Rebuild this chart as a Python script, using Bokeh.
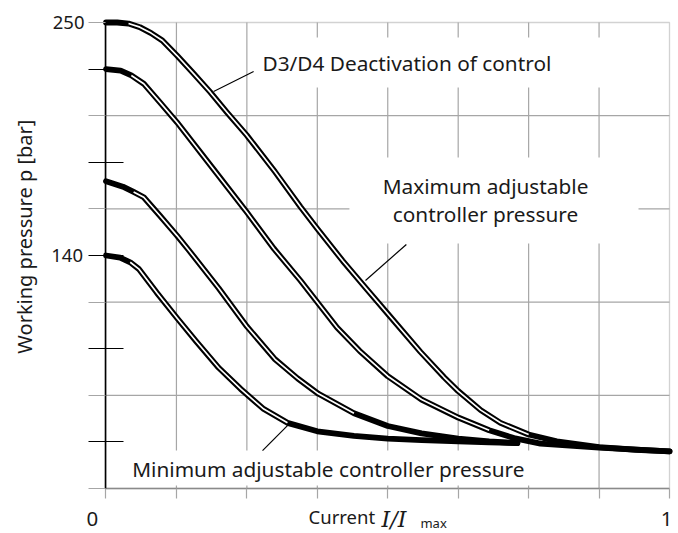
import math
from bokeh.plotting import figure
from bokeh.models import Range1d, FixedTicker, Label, LinearAxis, BoxAnnotation
from bokeh.embed import file_html
from bokeh.resources import INLINE

# ---- data (x = I/Imax, y = working pressure in bar) ----
current_a = [0.0, 0.02, 0.04, 0.06, 0.08, 0.10, 0.126, 0.155, 0.185, 0.215, 0.25, 0.30, 0.345,
             0.375, 0.42, 0.463, 0.50, 0.558, 0.60, 0.625, 0.665, 0.70, 0.75, 0.80, 0.875, 0.94, 1.0]
pressure_a = [250.0, 250.0, 249.5, 247.8, 245.0, 241.5, 234.4, 226.0, 217.1, 207.5, 196.7, 179.5, 163.0,
              152.6, 137.5, 124.0, 112.5, 94.5, 82.5, 76.0, 67.0, 61.0, 55.5, 52.3, 49.5, 48.3, 47.5]

current_b = [0.0, 0.026, 0.045, 0.067, 0.095, 0.126, 0.19, 0.25, 0.298, 0.345, 0.41, 0.45, 0.50,
             0.56, 0.625, 0.68, 0.724, 0.771, 0.875, 1.0]
pressure_b = [228.0, 227.3, 225.0, 221.1, 212.5, 202.9, 181.0, 160.4, 143.2, 128.2, 106.0, 95.0, 83.0,
              72.0, 63.5, 57.5, 53.8, 51.2, 49.3, 47.5]

current_c = [0.0, 0.03, 0.049, 0.067, 0.095, 0.126, 0.147, 0.20, 0.25, 0.30, 0.34, 0.377, 0.44,
             0.50, 0.56, 0.625, 0.68, 0.73]
pressure_c = [175.1, 172.5, 170.0, 167.5, 159.0, 149.4, 142.5, 124.5, 106.5, 91.0, 82.0, 74.7, 65.5,
              59.5, 56.0, 53.5, 52.2, 51.4]

current_d = [0.0, 0.025, 0.043, 0.058, 0.09, 0.126, 0.16, 0.20, 0.239, 0.28, 0.322, 0.375, 0.44,
             0.50, 0.56, 0.625, 0.68, 0.73]
pressure_d = [140.0, 139.0, 136.8, 133.7, 122.5, 110.5, 99.5, 87.0, 77.0, 67.5, 61.0, 57.0, 54.8,
              53.5, 52.8, 52.3, 51.8, 51.4]

# stretch of each curve (index range) where the up/down pair shows as an open double line
gap_a = (2, 22)
gap_b = (2, 15)
gap_c = (2, 12)
gap_d = (2, 10)

# panel and ticks
x_min, x_max = 0.0, 1.0
y_min, y_max = 30.0, 250.0
y_major_ticks = [228, 184, 140, 96, 52]
y_minor_ticks = [250, 206, 162, 118, 74, 30]
y_grid_ticks = [206, 162, 118, 74]
y_tick_labels = {140: "140"}
y_top_label = "250"
x_ticks = [0, 0.125, 0.25, 0.375, 0.5, 0.625, 0.75, 0.875, 1]
x_grid_ticks = [0.125, 0.25, 0.375, 0.5, 0.625, 0.75, 0.875]
x_tick_labels = ["0", "1"]

# annotation texts, leader lines, white boxes behind the notes
y_title = "Working pressure p [bar]"
x_title = ["Current", "I/I", "max"]
note_top = "D3/D4 Deactivation of control"
note_max = ["Maximum adjustable", "controller pressure"]
note_min = "Minimum adjustable controller pressure"
leader_x0 = [0.191, 0.4605, 0.322]
leader_y0 = [217.4, 128.2, 59.7]
leader_x1 = [0.262, 0.533, 0.2778]
leader_y1 = [226.9, 145.2, 47.9]
box_left = [0.26, 0.432, 0.026]
box_right = [0.913, 0.945, 0.806]
box_bottom = [219.3, 145.7, 31.4]
box_top = [242.9, 186.3, 47.9]

FONT = "Noto Sans"
TXT = "#1a1a1a"
GRID = "#a6a6a6"
NOTE_SIZE = "20.8px"

# the frame fills the canvas; the panel (0..1, 30..250) sits inside it with the axes
# pinned to its left and bottom edges, so texts below/left of the panel stay visible
p = figure(width=678, height=533,
           x_range=Range1d(-0.18722, 1.01597), y_range=Range1d(8.755, 260.386),
           x_axis_type=None, y_axis_type=None,
           output_backend="svg", toolbar_location=None,
           min_border_left=0, min_border_right=0, min_border_top=0, min_border_bottom=0)
p.background_fill_color = "white"
p.border_fill_color = "white"
p.outline_line_color = None

# panel border
p.add_layout(BoxAnnotation(left=x_min, right=x_max, bottom=y_min, top=y_max,
                           fill_color=None, line_color="#6a6a6a", line_width=1.3,
                           level="underlay"))

# grid lines
p.segment(x0=x_grid_ticks, x1=x_grid_ticks, y0=[y_min] * len(x_grid_ticks),
          y1=[y_max] * len(x_grid_ticks), line_color=GRID, line_width=1.2)
p.segment(x0=[x_min] * len(y_grid_ticks), x1=[x_max] * len(y_grid_ticks),
          y0=y_grid_ticks, y1=y_grid_ticks, line_color=GRID, line_width=1.2)

# y axis
ya = LinearAxis(fixed_location=x_min, bounds=(y_min, y_max),
                ticker=FixedTicker(ticks=y_major_ticks, minor_ticks=y_minor_ticks))
ya.major_label_overrides = {t: y_tick_labels.get(t, "") for t in y_major_ticks}
ya.major_tick_out = 17
ya.major_tick_in = 18
ya.major_tick_line_color = "black"
ya.major_tick_line_width = 1.2
ya.minor_tick_out = 17
ya.minor_tick_in = 0
ya.minor_tick_line_color = GRID
ya.minor_tick_line_width = 1.2
ya.axis_line_color = "black"
ya.axis_line_width = 1.6
ya.major_label_standoff = 6
ya.major_label_text_font = FONT
ya.major_label_text_font_size = "18.5px"
ya.major_label_text_color = TXT
p.add_layout(ya, "left")

# x axis (ticks only; its texts are placed below)
xa = LinearAxis(fixed_location=y_min, bounds=(x_min, x_max),
                ticker=FixedTicker(ticks=x_ticks, minor_ticks=[]))
xa.major_label_overrides = {t: "" for t in x_ticks}
xa.major_tick_out = 10
xa.major_tick_in = 0
xa.major_tick_line_color = GRID
xa.major_tick_line_width = 1.2
xa.axis_line_color = "#8a8a8a"
xa.axis_line_width = 1.3
p.add_layout(xa, "below")

# white boxes behind the notes
p.quad(left=box_left, right=box_right, bottom=box_bottom, top=box_top,
       fill_color="white", line_color=None)

# curves: thick black stroke with a thin white core where the pair separates
for xs, ys, gap in ((current_a, pressure_a, gap_a), (current_b, pressure_b, gap_b),
                    (current_c, pressure_c, gap_c), (current_d, pressure_d, gap_d)):
    p.line(xs, ys, line_color="black", line_width=5.8, line_join="round", line_cap="round")
    p.line(xs[gap[0]:gap[1] + 1], ys[gap[0]:gap[1] + 1], line_color="white",
           line_width=1.7, line_join="round", line_cap="butt")

# leader lines
p.segment(x0=leader_x0, y0=leader_y0, x1=leader_x1, y1=leader_y1,
          line_color="black", line_width=1.2)

def lab(x, y, text, size=NOTE_SIZE, align="left", font=FONT, style="normal",
        baseline="middle", angle=0.0):
    p.add_layout(Label(x=x, y=y, text=text, text_font=font, text_font_size=size,
                       text_font_style=style, text_color=TXT, angle=angle,
                       text_align=align, text_baseline=baseline))

lab(0.2777, 231.1, note_top)
lab(0.6735, 173.0, note_max[0], align="center")
lab(0.6735, 159.8, note_max[1], align="center")
lab(0.0465, 39.4, note_min)

# y title and top tick label
lab(-0.1446, 148.9, y_title, size="20px", align="center", angle=math.pi / 2)
lab(-0.0382, 250.0, y_top_label, size="18.5px", align="right")

# x tick labels and x title
lab(-0.024, 15.4, x_tick_labels[0], size="20.5px", align="center", baseline="alphabetic")
lab(0.9947, 15.4, x_tick_labels[1], size="20.5px", align="center", baseline="alphabetic")
lab(0.3594, 16.8, x_title[0], size="18.5px", baseline="alphabetic")
lab(0.4890, 15.4, x_title[1], size="22px", font="DejaVu Serif", style="italic",
    baseline="alphabetic")
lab(0.558, 13.5, x_title[2], size="13px", baseline="alphabetic")

open("out.html", "w").write(file_html(p, INLINE))
